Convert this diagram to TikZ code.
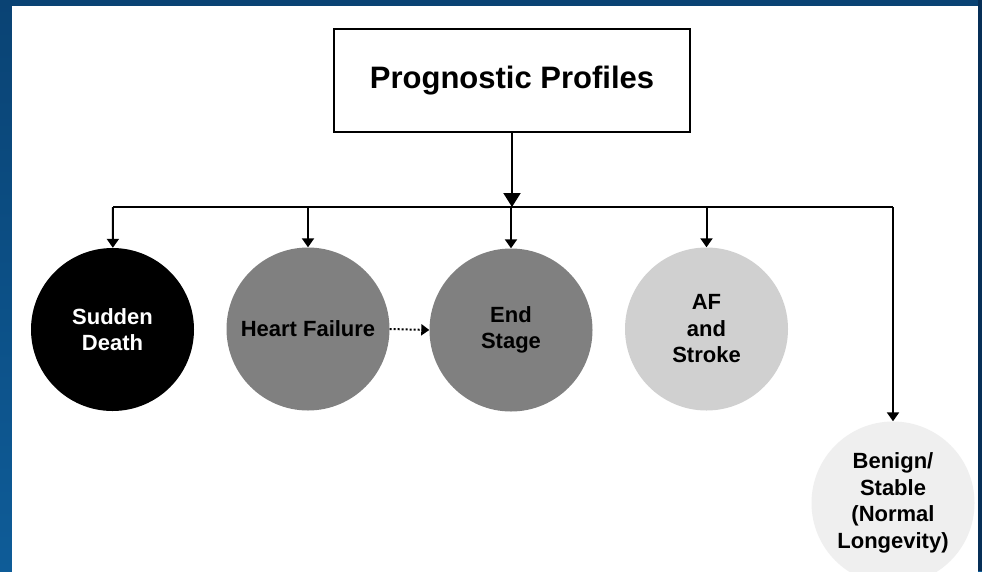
\documentclass[tikz,border=0pt]{standalone}
\usepackage{fontspec}
\setmainfont{Liberation Sans}
\usepackage{tikz}
\usetikzlibrary{calc, shapes, arrows, arrows.meta}
\usetikzlibrary{positioning}
\definecolor{slidetop}{HTML}{0A4374}
\definecolor{slidebot}{HTML}{0E5C98}
\definecolor{slideedge}{HTML}{062F57}
\definecolor{midgray}{HTML}{808080}
\definecolor{lightgray}{HTML}{D0D0D0}
\definecolor{palegray}{HTML}{EFEFEF}
\tikzstyle{header} = [draw, rectangle, line width=2.2pt,
    minimum width=356pt, minimum height=103pt,
    font=\bfseries\fontsize{31}{36}\selectfont]
\tikzstyle{profile} = [circle, minimum size=163pt, inner sep=0pt,
    align=center, font=\bfseries\fontsize{22}{26.5}\selectfont]
\tikzstyle{link} = [line width=2pt, -{Triangle[width=12pt, length=9pt]}]

\begin{document}
\begin{tikzpicture}[x=1pt, y=-1pt]
        \useasboundingbox (0, 0) rectangle (982, 571);
        \shade[top color=slidetop, bottom color=slidebot] (0, 0) rectangle (982, 571);
        \fill[slideedge] (978, 0) rectangle (982, 571);
        \fill[white] (12, 6) rectangle (978, 580);

        \node[header, name=prog] at (512, 80.5) {Prognostic Profiles};

        \node[profile, fill=black, text=white, name=sudden] at (112.5, 329.5) {Sudden\\Death};
        \node[profile, fill=midgray, name=heart] at (308, 329) {Heart Failure};
        \node[profile, fill=midgray, name=endstage] at (511, 330) {End\\Stage};
        \node[profile, fill=lightgray, name=afstroke] at (706.5, 329) {AF\\and\\Stroke};
        \node[profile, fill=palegray, name=benign] at (893, 503) {Benign/\\Stable\\(Normal\\Longevity)};

        \coordinate (bus_l) at (113, 207);
        \coordinate (bus_r) at (893, 207);

        \draw[line width=2pt, -{Triangle[width=17pt, length=14pt]}] (prog) -- (prog |- bus_l);
        \draw[line width=2pt] (bus_l) -- (bus_r);
        \draw[link] (bus_l) -- (sudden);
        \draw[link] (heart |- bus_l) -- (heart);
        \draw[link] (endstage |- bus_l) -- (endstage);
        \draw[link] (afstroke |- bus_l) -- (afstroke);
        \draw[link] (bus_r) -- (benign);
        \draw[line width=2pt, dotted, -{Triangle[width=11pt, length=8pt]}] (heart.east) -- (endstage.west);
    \end{tikzpicture}
\end{document}
